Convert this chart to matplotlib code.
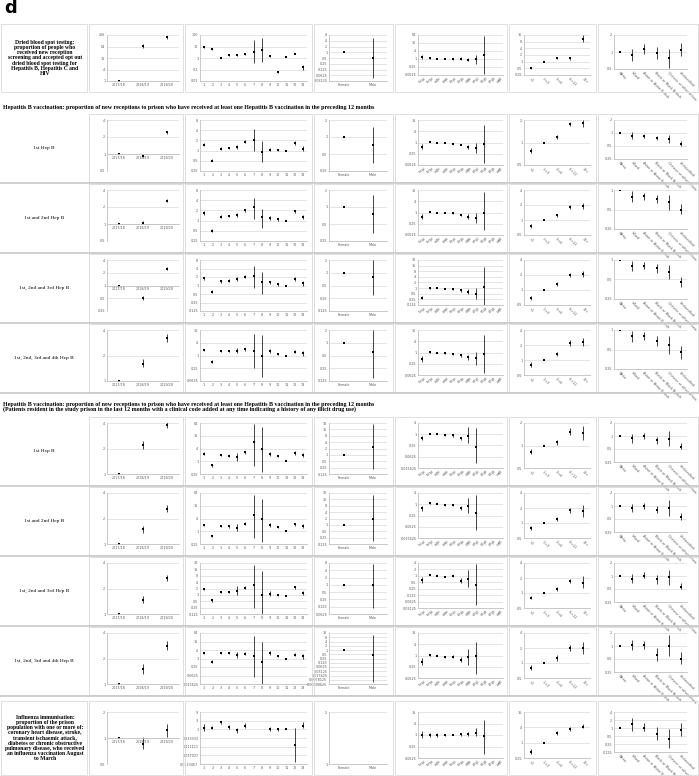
import matplotlib.pyplot as plt
from matplotlib.patches import Rectangle
from matplotlib.lines import Line2D

YEARS = ['2017/18', '2018/19', '2019/20']
PRISONS = [str(i) for i in range(1, 14)]
SEXES = ['Female', 'Male']
AGES = ['18-\n20', '21-\n25', '26-\n30', '31-\n35', '36-\n40', '41-\n45',
        '46-\n50', '51-\n55', '56-\n60', '61-\n65', '66-\n70']
STAYS = ['<1', '1-<3', '3-<6', '6-<12', '12+']
ETHNIC = ['White', 'Mixed', 'Asian or Asian British', 'Black or Black British',
          'Chinese or other ethnic', 'Unclassified']

HEADER_1 = ('Hepatitis B vaccination: proportion of new receptions to prison who have received '
            'at least one Hepatitis B vaccination in the preceding 12 months')
HEADER_2 = ('(Patients resident in the study prison in the last 12 months with a clinical code added '
            'at any time indicating a history of any illicit drug use)')
ROW_LABELS = [
    'Dried blood spot testing:\nproportion of people who\nreceived new reception\nscreening and accepted opt out\n'
    'dried blood spot testing for\nHepatitis B, Hepatitis C and\nHIV',
    '1st Hep B', '1st and 2nd Hep B', '1st, 2nd and 3rd Hep B', '1st, 2nd, 3rd and 4th Hep B',
    '1st Hep B', '1st and 2nd Hep B', '1st, 2nd and 3rd Hep B', '1st, 2nd, 3rd and 4th Hep B',
    'Influenza immunisation:\nproportion of the prison\npopulation with one or more of:\n'
    'coronary heart disease, stroke,\ntransient ischaemic attack,\ndiabetes or chronic obstructive\n'
    'pulmonary disease, who received\nan influenza vaccination August\nto March',
]

# y axis ticks per row: (lowest, highest, factor)
YEAR_TICKS = [(1, 256, 4), (0.5, 4, 2), (0.5, 4, 2), (0.25, 4, 2), (1, 4, 2),
              (1, 4, 2), (1, 4, 2), (1, 4, 2), (1, 4, 2), (0.5, 2, 2)]
PRISON_TICKS = [(0.01, 100, 10), (0.25, 8, 2), (0.25, 8, 2), (0.125, 8, 2), (0.0625, 16, 4),
                (0.25, 64, 4), (0.25, 64, 4), (0.125, 32, 2), (0.015625, 64, 4), (1 / 81, 9, 3)]
SEX_TICKS = [(0.03125, 8, 2), (0.25, 2, 2), (0.25, 2, 2), (0.125, 2, 2), (0.125, 2, 2),
             (0.125, 32, 2), (0.125, 32, 2), (0.0625, 8, 2), (0.00390625, 16, 2), (1, 2, 2)]
AGE_TICKS = [(0.0625, 64, 4), (0.0625, 16, 4), (0.0625, 16, 4), (0.125, 32, 2), (0.0625, 16, 4),
             (0.015625, 4, 4), (0.015625, 4, 4), (0.03125, 4, 2), (0.0625, 16, 4), (0.0625, 16, 4)]
STAY_TICKS = [(0.25, 16, 2), (0.5, 2, 2), (0.5, 4, 2), (0.5, 4, 2), (0.5, 4, 2),
              (0.5, 2, 2), (0.5, 4, 2), (0.5, 4, 2), (0.5, 4, 2), (0.25, 16, 4)]
ETHNIC_TICKS = [(0.5, 2, 2), (0.25, 2, 2), (0.25, 1, 2), (0.25, 1, 2), (0.25, 1, 2),
                (0.25, 2, 2), (0.25, 2, 2), (0.25, 2, 2), (0.25, 2, 2), (0.125, 4, 2)]

# (estimate, lower CI, upper CI); lower None = reference, no interval; None = no estimate
dbs_year = [(1, None, None), (70, 55, 90), (190, 160, 230)]
dbs_prison = [(10, 8, 12), (6.2, 5.4, 7), (1, None, None), (1.7, 1.45, 2), (1.7, 1.4, 2),
              (2.05, 1.75, 2.4), (3.2, 0.34, 35), (4.8, 0.46, 55), (1.5, 1.3, 1.75),
              (0.06, 0.045, 0.08), (1.13, None, None), (2.4, 2.05, 2.8), (0.16, 0.1, 0.25)]
dbs_sex = [(1, None, None), (0.5, 0.047, 5.7)]
dbs_age = [(1.43, 1.0, 2.05), (1.1, 1.0, 1.2), (1.0, None, None), (1.0, 0.92, 1.08),
           (0.95, 0.87, 1.05), (1.05, 0.8, 1.4), (0.85, 0.65, 1.1), (1.0, 0.45, 2.0),
           (2.05, 0.07, 57), None, None]
dbs_stay = [(0.54, 0.48, 0.6), (1, None, None), (1.45, 1.3, 1.6), (1.4, 1.25, 1.55),
            (11, 7.5, 16)]
dbs_ethnic = [(1, None, None), (0.87, 0.68, 1.11), (1.12, 0.92, 1.36), (0.96, 0.76, 1.25),
              (0.79, 0.52, 1.11), (1.1, 0.84, 1.42)]

hb1_year = [(1, None, None), (0.93, 0.88, 0.98), (2.43, 2.3, 2.6)]
hb1_prison = [(1.5, 1.35, 1.7), (0.51, 0.48, 0.55), (1.15, 1.05, 1.3), (1.2, 1.1, 1.3),
              (1.25, 1.1, 1.45), (1.85, 1.65, 2.05), (2.0, 0.95, 4.3), (0.9, 0.45, 1.9),
              (1.07, 0.95, 1.2), (1.03, 0.95, 1.12), (1.0, None, None), (1.7, 1.5, 1.95),
              (1.15, 1.0, 1.35)]
hb1_sex = [(1, None, None), (0.73, 0.35, 1.5)]
hb1_age = [(0.59, 0.45, 0.8), (1.08, 1.02, 1.14), (1.0, None, None), (0.96, 0.92, 1.0),
           (0.88, 0.83, 0.94), (0.78, 0.7, 0.88), (0.59, 0.45, 0.75), (0.52, 0.28, 0.96),
           (0.88, 0.08, 9), None, None]
hb1_stay = [(0.78, 0.72, 0.85), (1, None, None), (1.17, 1.1, 1.25), (1.77, 1.65, 1.9),
            (1.85, 1.6, 2.0)]
hb1_ethnic = [(1, None, None), (0.84, 0.73, 1.03), (0.84, 0.75, 0.95), (0.77, 0.68, 0.87),
              (0.72, 0.6, 0.9), (0.57, 0.5, 0.67)]

hb2_year = [(1, None, None), (1.05, 0.98, 1.13), (2.6, 2.45, 2.8)]
hb2_prison = [(1.7, 1.5, 1.9), (0.5, 0.45, 0.55), (1.3, 1.2, 1.45), (1.4, 1.3, 1.5),
              (1.5, 1.3, 1.7), (2.0, 1.8, 2.2), (2.6, 1.1, 4.5), (1.3, 0.6, 2.2),
              (1.2, 1.05, 1.35), (1.1, 1.0, 1.2), (1.0, None, None), (1.9, 1.7, 2.1),
              (1.3, 1.1, 1.5)]
hb2_sex = [(1, None, None), (0.75, 0.35, 1.6)]
hb2_age = [(0.6, 0.45, 0.8), (1.1, 1.02, 1.18), (1.0, None, None), (0.95, 0.9, 1.0),
           (0.9, 0.82, 0.98), (0.75, 0.65, 0.85), (0.6, 0.45, 0.8), (0.5, 0.28, 0.95),
           (1.0, 0.12, 12), None, None]
hb2_stay = [(0.75, 0.7, 0.82), (1, None, None), (1.25, 1.15, 1.35), (1.85, 1.7, 2.0),
            (1.9, 1.7, 2.2)]
hb2_ethnic = [(1, None, None), (0.78, 0.65, 0.95), (0.8, 0.7, 0.9), (0.72, 0.62, 0.85),
              (0.65, 0.5, 0.85), (0.5, 0.42, 0.6)]

hb3_year = [(1, None, None), (0.5, 0.45, 0.55), (2.5, 2.3, 2.7)]
hb3_prison = [(1.8, 1.6, 2.0), (0.6, 0.53, 0.68), (1.4, 1.25, 1.55), (1.5, 1.35, 1.65),
              (1.7, 1.45, 2.0), (2.0, 1.8, 2.3), (2.2, 0.8, 5), (1.3, 0.5, 3),
              (1.3, 1.1, 1.5), (1.1, 1.0, 1.2), (1.0, None, None), (1.7, 1.5, 1.95),
              (1.2, 1.0, 1.45)]
hb3_sex = [(1, None, None), (0.8, 0.3, 2.0)]
hb3_age = [(0.3, 0.25, 0.4), (1.0, 0.95, 1.05), (1.0, None, None), (0.9, 0.85, 0.95),
           (0.85, 0.78, 0.93), (0.75, 0.65, 0.86), (0.65, 0.5, 0.85), (0.5, 0.25, 1.0),
           (1.2, 0.1, 14), None, None]
hb3_stay = [(0.7, 0.64, 0.77), (1, None, None), (1.3, 1.2, 1.42), (2.0, 1.8, 2.2),
            (2.1, 1.85, 2.4)]
hb3_ethnic = [(1, None, None), (0.8, 0.67, 0.95), (0.82, 0.72, 0.93), (0.74, 0.63, 0.87),
              (0.65, 0.5, 0.85), (0.45, 0.38, 0.55)]

hb4_year = [(1, None, None), (1.6, 1.45, 1.8), (3.2, 2.9, 3.6)]
hb4_prison = [(1.9, 1.7, 2.1), (0.5, 0.42, 0.6), (1.6, 1.4, 1.8), (1.6, 1.4, 1.8),
              (1.7, 1.3, 2.2), (2.0, 1.7, 2.3), (1.6, 0.25, 10), (1.0, 0.1, 9),
              (1.7, 1.35, 2.1), (1.2, 1.05, 1.35), (1.0, None, None), (1.5, 1.25, 1.8),
              (1.3, 1.0, 1.7)]
hb4_sex = [(1, None, None), (0.6, 0.15, 2.0)]
hb4_age = [(0.45, 0.32, 0.62), (1.1, 1.0, 1.2), (1.0, None, None), (0.95, 0.88, 1.02),
           (0.85, 0.75, 0.96), (0.7, 0.58, 0.84), (0.55, 0.4, 0.75), (0.5, 0.22, 1.1),
           (0.8, 0.08, 9), None, None]
hb4_stay = [(0.8, 0.72, 0.9), (1, None, None), (1.3, 1.18, 1.45), (2.2, 1.95, 2.5),
            (2.3, 1.95, 2.75)]
hb4_ethnic = [(1, None, None), (0.8, 0.66, 0.97), (0.8, 0.7, 0.92), (0.68, 0.56, 0.82),
              (0.58, 0.42, 0.8), (0.45, 0.36, 0.57)]

du1_year = [(1, None, None), (2.2, 2.0, 2.45), (3.8, 3.5, 4.1)]
du1_prison = [(2.3, 2.0, 2.7), (0.65, 0.56, 0.75), (2.0, 1.75, 2.3), (1.8, 1.6, 2.05),
              (1.6, 1.0, 2.4), (2.6, 2.3, 3.0), (8, 0.6, 60), (4, 0.3, 40),
              (2.1, 1.7, 2.6), (1.8, 1.6, 2.05), (1.0, None, None), (2.4, 2.0, 2.9),
              (2.0, 1.6, 2.5)]
du1_sex = [(1, None, None), (2.45, 0.21, 30)]
du1_age = [(0.64, 0.5, 0.85), (1.05, 0.98, 1.12), (1.0, None, None), (0.87, 0.8, 0.95),
           (0.87, 0.75, 1.0), (0.6, 0.48, 0.75), (0.8, 0.36, 2.3), (0.22, 0.0275, 2.2),
           None, None, None]
du1_stay = [(0.83, 0.78, 0.9), (1, None, None), (1.1, 1.03, 1.2), (1.53, 1.4, 1.7),
            (1.46, 1.17, 1.85)]
du1_ethnic = [(1, None, None), (0.9, 0.7, 1.11), (0.98, 0.86, 1.16), (0.8, 0.66, 0.97),
              (0.87, 0.59, 1.28), (0.56, 0.5, 0.7)]

du2_year = [(1, None, None), (1.5, 1.35, 1.65), (2.6, 2.4, 2.85)]
du2_prison = [(2.0, 1.75, 2.3), (0.6, 0.52, 0.7), (1.8, 1.55, 2.05), (1.7, 1.5, 1.95),
              (1.5, 1.0, 2.3), (2.2, 1.9, 2.6), (6, 0.5, 50), (4, 0.3, 35),
              (1.9, 1.55, 2.35), (1.6, 1.4, 1.85), (1.0, None, None), (2.1, 1.75, 2.5),
              (1.8, 1.45, 2.25)]
du2_sex = [(1, None, None), (2.0, 0.18, 25)]
du2_age = [(0.6, 0.45, 0.8), (1.1, 1.02, 1.18), (1.0, None, None), (0.9, 0.82, 0.98),
           (0.9, 0.78, 1.05), (0.6, 0.47, 0.76), (0.8, 0.33, 2.2), (0.35, 0.04, 3),
           None, None, None]
du2_stay = [(0.8, 0.74, 0.87), (1, None, None), (1.2, 1.1, 1.3), (1.8, 1.6, 2.0),
            (1.75, 1.35, 2.25)]
du2_ethnic = [(1, None, None), (0.9, 0.72, 1.12), (1.0, 0.87, 1.18), (0.82, 0.68, 1.0),
              (0.9, 0.6, 1.35), (0.55, 0.48, 0.68)]

du3_year = [(1, None, None), (1.47, 1.34, 1.63), (2.65, 2.45, 2.9)]
du3_prison = [(1.9, 1.7, 2.2), (0.55, 0.48, 0.62), (1.4, 1.25, 1.6), (1.4, 1.25, 1.6),
              (1.5, 0.95, 2.6), (2.2, 1.9, 2.6), (2.9, 0.25, 25), (1.0, 0.1, 13),
              (1.1, 0.85, 1.5), (1.0, 0.9, 1.15), (0.9, None, None), (2.3, 2.0, 2.7),
              (1.2, 0.95, 1.5)]
du3_sex = [(1, None, None), (0.95, 0.11, 7)]
du3_age = [(0.62, 0.47, 0.87), (1.1, 1.04, 1.16), (1.03, None, None), (0.93, 0.88, 1.0),
           (1.0, 0.87, 1.15), (0.6, 0.48, 0.78), (0.72, 0.29, 1.8), (0.39, 0.045, 3.5),
           None, None, None]
du3_stay = [(0.8, 0.75, 0.87), (1, None, None), (1.2, 1.1, 1.35), (1.75, 1.6, 1.95),
            (1.6, 1.25, 2.15)]
du3_ethnic = [(1, None, None), (0.86, 0.68, 1.1), (1.02, 0.88, 1.27), (0.84, 0.66, 1.08),
              (0.93, 0.63, 1.4), (0.56, 0.5, 0.7)]

du4_year = [(1, None, None), (1.5, 1.3, 1.7), (2.84, 2.5, 3.2)]
du4_prison = [(2.4, 2.0, 2.9), (0.6, 0.48, 0.75), (2.4, 2.1, 2.8), (2.3, 2.0, 2.6),
              (1.8, 1.1, 2.8), (2.2, 1.8, 2.7), (1.5, 0.05, 40), (0.55, 0.015, 16),
              (2.5, 1.8, 3.4), (1.4, 1.2, 1.65), (1.0, None, None), (1.9, 1.5, 2.4),
              (1.5, 1.0, 2.2)]
du4_sex = [(1, None, None), (0.45, 0.005, 12)]
du4_age = [(0.45, 0.3, 0.7), (1.05, 0.98, 1.12), (1.0, None, None), (0.85, 0.77, 0.94),
           (0.85, 0.7, 1.03), (0.6, 0.45, 0.8), (0.8, 0.3, 2.2), (0.9, 0.1, 5.5),
           None, None, None]
du4_stay = [(0.8, 0.72, 0.9), (1, None, None), (1.25, 1.1, 1.45), (2.0, 1.75, 2.3),
            (2.0, 1.5, 2.6)]
du4_ethnic = [(1, None, None), (1.05, 0.8, 1.4), (1.05, 0.85, 1.3), (0.62, 0.45, 0.9),
              (1.0, 0.58, 1.8), (0.5, 0.38, 0.72)]

flu_year = [(1, None, None), (0.86, 0.74, 1.02), (1.23, 1.02, 1.45)]
flu_prison = [(1.25, 0.85, 1.9), (1.25, 1.0, 1.6), (2.4, 1.9, 3.0), (1.4, 1.05, 1.8),
              (0.88, 0.6, 1.2), (1.55, 1.2, 2.1), None, None, (1.0, 0.8, 1.3),
              (1.0, 0.8, 1.25), (1.0, None, None), (0.13, 0.015, 1.15), (1.6, 1.25, 2.6)]
flu_sex = [None, None]
flu_age = [(1.05, 0.72, 1.6), (0.97, 0.75, 1.25), (1.0, 0.8, 1.2), (1.0, 0.85, 1.15),
           (1.0, None, None), (1.1, 0.9, 1.35), (1.15, 0.9, 1.45), (1.2, 0.85, 2.3),
           (0.85, 0.1, 6.2), None, None]
flu_stay = [(0.43, 0.35, 0.55), (1, None, None), (2.4, 2.0, 2.9), (3.3, 2.8, 4.0),
            (4.3, 3.6, 5.2)]
flu_ethnic = [(1, None, None), (1.42, 0.79, 2.35), (0.97, 0.75, 1.5), (0.62, 0.35, 1.06),
              (0.4, 0.18, 0.92), (0.84, 0.5, 1.55)]

ROWS = ['dbs', 'hb1', 'hb2', 'hb3', 'hb4', 'du1', 'du2', 'du3', 'du4', 'flu']
PANELS = ['year', 'prison', 'sex', 'age', 'stay', 'ethnic']
CATS = [YEARS, PRISONS, SEXES, AGES, STAYS, ETHNIC]
TICKS = [YEAR_TICKS, PRISON_TICKS, SEX_TICKS, AGE_TICKS, STAY_TICKS, ETHNIC_TICKS]

W, H = 699, 776
ROW_Y = [(23, 93), (113, 183), (183, 253), (253, 323), (323, 393),
         (416, 486), (486, 556), (556, 626), (626, 696), (700, 776)]
COL_X = [(88, 184), (184, 313), (313, 394), (394, 508), (508, 597), (597, 699)]
PAD_L = [19, 16, 16, 24, 16, 17]
PAD_R = [5, 6, 7, 5, 7, 12]
PAD_B = [12, 12, 12, 18, 18, 24]

GRID = '#d9d9d9'
AXC = '#bfbfbf'
TXT = '#595959'

fig = plt.figure(figsize=(W / 100, H / 100), dpi=100)


def fx(x):
    return x / W


def fy(y):
    return 1 - y / H


def make_ticks(lo, hi, f):
    t = [lo]
    while t[-1] * f <= hi * 1.0001:
        t.append(t[-1] * f)
    return t


def draw_panel(cell, pads, cats, data, tick_spec, year_axis, rotate, top_pad):
    (x0, x1), (y0, y1) = cell
    pl, pr, pb = pads
    fig.add_artist(Rectangle((fx(x0 + 1), fy(y1 - 1)), fx(x1 - x0 - 2), (y1 - y0 - 2) / H,
                             transform=fig.transFigure, fill=False, ec=GRID, lw=0.6))
    ax = fig.add_axes([fx(x0 + pl), fy(y1 - pb), fx(x1 - x0 - pl - pr), (y1 - y0 - pb - top_pad) / H])
    ticks = make_ticks(*tick_spec)
    ax.set_yscale('log')
    ax.set_ylim(ticks[0], ticks[-1])
    ax.set_yticks(ticks)
    ax.set_yticklabels(['%g' % t for t in ticks])
    ax.minorticks_off()
    ax.set_xlim(0.5, len(cats) + 0.5)
    ax.set_xticks(range(1, len(cats) + 1))
    if rotate:
        ax.set_xticklabels(cats, rotation=-45, ha='left', rotation_mode='anchor',
                           fontsize=2.2, color=TXT, linespacing=0.9)
    else:
        ax.set_xticklabels(cats, fontsize=2.4, color=TXT)
    ax.tick_params(axis='both', length=0, pad=1.2, labelsize=2.4, labelcolor=TXT)
    ax.yaxis.grid(True, color=GRID, lw=0.5)
    ax.set_axisbelow(True)
    for s in ['top', 'right']:
        ax.spines[s].set_visible(False)
    ax.spines['left'].set_color(AXC)
    ax.spines['left'].set_linewidth(0.6)
    ax.spines['bottom'].set_color(AXC)
    ax.spines['bottom'].set_linewidth(0.6)
    if year_axis and ticks[0] < 1:
        ax.spines['bottom'].set_position(('data', 1))
    ax.patch.set_alpha(0)
    for i, v in enumerate(data):
        if v is None:
            continue
        est, lo, hi = v
        x = i + 1
        if lo is None:
            ax.plot([x], [est], 's', ms=1.6, color='black', mew=0)
        else:
            ax.errorbar([x], [est], yerr=[[est - lo], [hi - est]], fmt='s', ms=1.6, mew=0,
                        color='black', ecolor='#262626', elinewidth=0.6, capsize=1.6,
                        capthick=0.6)
    return ax


fig.text(fx(4), fy(8), 'd', fontsize=13, fontweight='bold', va='center', ha='left',
         family='DejaVu Sans')

serif = 'Liberation Serif'
fig.text(fx(3), fy(107), HEADER_1, fontsize=4.35, fontweight='bold', family=serif,
         va='center', ha='left')
fig.text(fx(3), fy(407), HEADER_1 + '\n' + HEADER_2, fontsize=4.35, fontweight='bold',
         family=serif, va='center', ha='left', linespacing=0.95)

g = globals()
for r, name in enumerate(ROWS):
    y0, y1 = ROW_Y[r]
    boxed = r in (0, 9)
    if boxed:
        fig.add_artist(Rectangle((fx(1), fy(y1 - 1)), fx(86), (y1 - y0 - 2) / H,
                                 transform=fig.transFigure, fill=False, ec=GRID, lw=0.6))
        fig.text(fx(45), fy((y0 + y1) / 2), ROW_LABELS[r], fontsize=4.1, fontweight='bold',
                 family=serif, ha='center', va='center', linespacing=1.05)
    else:
        fig.text(fx(44), fy((y0 + y1) / 2), ROW_LABELS[r], fontsize=3.9, family=serif,
                 ha='center', va='center')
        fig.add_artist(Line2D([0, 1], [fy(y1), fy(y1)], color='#c8c8c8', lw=1.2,
                              transform=fig.transFigure))
    top_pad = 12 if boxed else 7
    for c, panel in enumerate(PANELS):
        data = g[name + '_' + panel]
        draw_panel((COL_X[c], (y0, y1)), (PAD_L[c], PAD_R[c], PAD_B[c]), CATS[c], data,
                   TICKS[c][r], c == 0, c >= 3, top_pad)

fig.savefig('out.png', dpi=100)
